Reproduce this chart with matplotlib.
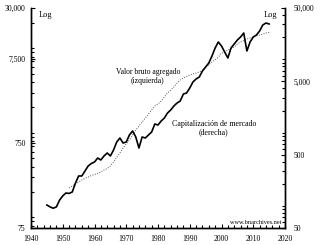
import numpy as np
import matplotlib
matplotlib.use("Agg")
import matplotlib.pyplot as plt
from matplotlib.ticker import FixedLocator, LogLocator, MultipleLocator, NullFormatter

plt.rcParams['font.family'] = ['Liberation Serif', 'DejaVu Serif']

# market capitalisation (right axis, log)
cap_years = list(range(1945, 2016))
cap_values = [103, 97, 93, 97, 120, 137, 150, 148, 155, 205,
              256, 256, 299, 350, 379, 397, 450, 423, 480, 527,
              480, 579, 744, 844, 721, 744, 927, 1051, 871, 616,
              871, 844, 927, 1019, 1310, 1269, 1439, 1581, 1850, 2032,
              2305, 2532, 2695, 3360, 3466, 4055, 4895, 5381, 5728, 6915,
              7838, 8891, 11070, 14240, 17190, 15170, 12560, 10400, 14240, 16150,
              18300, 20100, 22800, 12960, 17190, 20100, 21400, 24280, 29300, 31200,
              30250]

# gross value added (left axis, log)
gva_years = list(range(1952, 2016))
gva_values = [223, 235, 249, 262, 277, 289, 301, 313, 322, 331,
              345, 364, 379, 406, 453, 519, 578, 663, 739, 824,
              944, 1082, 1206, 1345, 1500, 1673, 1865, 2080, 2196, 2383,
              2657, 2963, 3215, 3488, 3890, 4221, 4457, 4644, 4837, 4972,
              5108, 5249, 5543, 6015, 6352, 6893, 7278, 7898, 8806, 9047,
              9553, 9953, 10370, 11260, 11890, 12380, 12890, 13250, 13620, 13990,
              14380, 14780, 15190, 15400]

left_ticks = [75, 750, 7500, 30000]
left_labels = ['75', '750', '7,500', '30,000']
right_ticks = [50, 500, 5000, 50000]
right_labels = ['50', '500', '5,000', '50,000']
year_ticks = list(range(1940, 2021, 10))

fig = plt.figure(figsize=(3.23, 2.45), dpi=100)
ax = fig.add_axes([31/323, 17/245, 254/323, 220/245])
ax2 = ax.twinx()

ax.plot(gva_years, gva_values, color='#555555', lw=0.7, ls=(0, (1, 1.5)))
ax2.plot(cap_years, cap_values, color='black', lw=1.2)

ax.set_yscale('log')
ax.set_ylim(75, 30000)
ax.yaxis.set_major_locator(FixedLocator(left_ticks))
ax.set_yticklabels(left_labels)
ax.yaxis.set_minor_locator(LogLocator(base=10, subs=np.arange(1, 10)))
ax.yaxis.set_minor_formatter(NullFormatter())

ax2.set_yscale('log')
ax2.set_ylim(50, 50000)
ax2.yaxis.set_major_locator(FixedLocator(right_ticks))
ax2.set_yticklabels(right_labels)
ax2.yaxis.set_minor_locator(LogLocator(base=10, subs=np.arange(1, 10)))
ax2.yaxis.set_minor_formatter(NullFormatter())

ax.set_xlim(1940, 2020)
ax.xaxis.set_major_locator(FixedLocator(year_ticks))
ax.xaxis.set_minor_locator(MultipleLocator(2))

for a in (ax, ax2):
    a.spines['top'].set_visible(False)
    for s in a.spines.values():
        s.set_linewidth(1.0)
    a.tick_params(which='both', direction='in', labelsize=5.5, width=0.8)
    a.tick_params(which='major', length=3)
    a.tick_params(which='minor', length=2)
ax.tick_params(axis='y', pad=4)
ax2.tick_params(axis='y', pad=6)
ax.tick_params(axis='x', pad=5)

ax.text(0.03, 0.985, 'Log', transform=ax.transAxes, fontsize=6, va='top', ha='left')
ax.text(0.97, 0.985, 'Log', transform=ax.transAxes, fontsize=6, va='top', ha='right')
ax.text(0.46, 0.69, 'Valor bruto agregado\n(izquierda)', transform=ax.transAxes,
        fontsize=5.5, ha='center', va='center', linespacing=1.1)
ax.text(0.72, 0.455, 'Capitalización de mercado\n(derecha)', transform=ax.transAxes,
        fontsize=5.7, ha='center', va='center', linespacing=1.1)
ax.text(0.985, 0.015, 'www.bnarchives.net', transform=ax.transAxes,
        fontsize=4.5, ha='right', va='bottom')

fig.savefig('out.png', dpi=100)
